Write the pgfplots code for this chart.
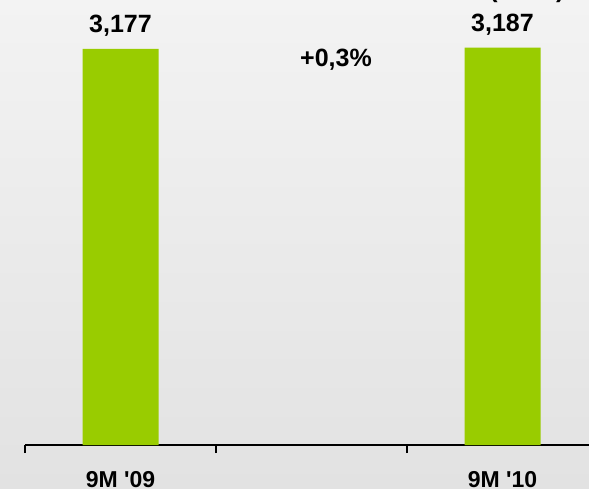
\documentclass[border=0pt]{standalone}
\usepackage{pgfplots}
\pgfplotsset{compat=1.18}
\usepackage{fontspec}
\setmainfont{Liberation Sans}
\definecolor{bargreen}{HTML}{99CC00}
\definecolor{bgtop}{HTML}{F3F3F3}
\definecolor{bgbot}{HTML}{E2E2E2}
\pgfplotstableread{
x y label
0 3177 {3,177}
2 3187 {3,187}
}\datatable
\begin{document}
\begin{tikzpicture}
\useasboundingbox (0,0) rectangle (589pt,488pt);
\shade[top color=bgtop,bottom color=bgbot] (0,0) rectangle (589pt,488pt);
\begin{axis}[
  at={(25pt,43pt)}, anchor=south west,
  scale only axis, width=573pt, height=436.3pt,
  xmin=-0.5, xmax=2.5, ymin=0, ymax=3500,
  axis x line*=bottom, axis y line=none,
  x axis line style={line width=1.5pt,black},
  xtick={0,2},
  xticklabels={{9M \textquotesingle 09},{9M \textquotesingle 10}},
  major tick length=0pt,
  extra x ticks={-0.5,0.5,1.5,2.5},
  extra x tick labels={},
  extra x tick style={tick align=outside, major tick length=8pt,
    tick style={line width=1.5pt,black}},
  xticklabel style={font=\fontsize{23}{23}\selectfont\bfseries, anchor=base, yshift=-42pt},
  ybar, bar width=76pt,
  nodes near coords, point meta=explicit symbolic,
  every node near coord/.append style={font=\fontsize{25}{25}\selectfont\bfseries, anchor=base, yshift=16pt, black},
  clip=false,
]
\addplot[fill=bargreen, draw=none] table[x=x, y=y, meta=label] {\datatable};
\node[anchor=base, font=\fontsize{25}{25}\selectfont\bfseries] at (axis cs:1.128,3033) {+0,3\%};
\node[anchor=base, font=\fontsize{25}{25}\selectfont\bfseries] at (axis cs:2.128,3586) {(GWh)};
\end{axis}
\end{tikzpicture}
\end{document}
